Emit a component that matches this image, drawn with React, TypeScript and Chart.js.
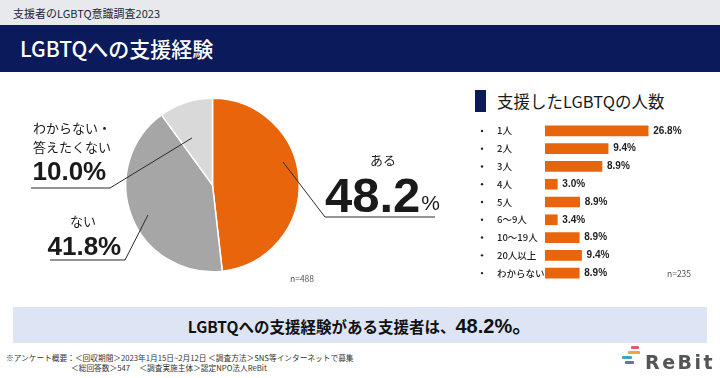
import React, { useEffect, useRef } from "react";
import { Chart, registerables } from "chart.js";

Chart.register(...registerables);

// ---- data ----
const pieLabels = ["ある", "ない", "わからない・\n答えたくない"];
const pieValues = [48.2, 41.8, 10.0];
const pieColors = ["#e8650c", "#a6a6a6", "#d9d9d9"];
const pieTotal = 488;

const countCategories = ["1人", "2人", "3人", "4人", "5人", "6〜9人", "10〜19人", "20人以上", "わからない"];
// percentages printed next to each bar
const countPercents = [26.8, 9.4, 8.9, 3.0, 8.9, 3.4, 8.9, 9.4, 8.9];
// bar lengths as drawn in the picture (in %)
const countBarLengths = [26.8, 16.4, 14.8, 3.2, 9.0, 3.2, 8.9, 9.5, 8.9];
const countTotal = 235;

const ORANGE = "#e8650c";
const NAVY = "#0b1a5b";
const JP = "'Noto Sans CJK JP', 'Noto Sans', sans-serif";
const NUM = "'Liberation Sans', Arial, sans-serif";

const pct = (v: number) => `${v.toFixed(1)}%`;

const pieLabelPlugin = {
  id: "pieLabelPlugin",
  afterDraw(chart: any) {
    const arc = chart.getDatasetMeta(0).data[0];
    if (!arc) return;
    const cx = arc.x;
    const cy = arc.y;
    const ctx = chart.ctx as CanvasRenderingContext2D;
    ctx.save();
    ctx.strokeStyle = "#2a2a2a";
    ctx.lineWidth = 1;
    const line = (pts: number[][]) => {
      ctx.beginPath();
      pts.forEach(([dx, dy], i) => {
        if (i === 0) ctx.moveTo(cx + dx, cy + dy);
        else ctx.lineTo(cx + dx, cy + dy);
      });
      ctx.stroke();
    };
    ctx.fillStyle = "#1a1a1a";
    ctx.textAlign = "left";

    // わからない・答えたくない
    const [a, b] = pieLabels[2].split("\n");
    ctx.textBaseline = "middle";
    ctx.font = `13px ${JP}`;
    ctx.fillText(a, cx - 179.5, cy - 57);
    ctx.fillText(b, cx - 179.5, cy - 38);
    ctx.textBaseline = "alphabetic";
    ctx.font = `bold 26px ${NUM}`;
    ctx.fillText(pct(pieValues[2]), cx - 180, cy - 5);
    line([[-181.5, 3], [-102.5, 3], [-20.5, -47]]);

    // ない
    ctx.textBaseline = "middle";
    ctx.font = `13px ${JP}`;
    ctx.fillText(pieLabels[1], cx - 142.5, cy + 36);
    ctx.textBaseline = "alphabetic";
    ctx.font = `bold 26px ${NUM}`;
    ctx.fillText(pct(pieValues[1]), cx - 165, cy + 70);
    line([[-162.5, 75], [-87.5, 75], [-64.5, 30]]);

    // ある
    ctx.textBaseline = "middle";
    ctx.font = `13px ${JP}`;
    ctx.fillText(pieLabels[0], cx + 157.5, cy - 25);
    ctx.textBaseline = "alphabetic";
    ctx.font = `bold 49px ${NUM}`;
    const big = pieValues[0].toFixed(1);
    ctx.fillText(big, cx + 112.5, cy + 27);
    const w = ctx.measureText(big).width;
    ctx.font = `21px ${NUM}`;
    ctx.fillText("%", cx + 112.5 + w + 1, cy + 25);
    line([[70.5, -23], [112.5, 32], [222.5, 32]]);

    ctx.restore();
  },
};

const barLabelPlugin = {
  id: "barLabelPlugin",
  afterDraw(chart: any) {
    const ctx = chart.ctx as CanvasRenderingContext2D;
    const meta = chart.getDatasetMeta(0);
    ctx.save();
    ctx.textBaseline = "middle";
    ctx.textAlign = "left";
    meta.data.forEach((bar: any, i: number) => {
      const y = bar.y;
      ctx.fillStyle = "#222";
      ctx.beginPath();
      ctx.arc(12, y, 1.2, 0, Math.PI * 2);
      ctx.fill();
      ctx.font = `500 9.5px ${JP}`;
      ctx.fillText(countCategories[i], 27, y);
      ctx.font = `bold 10px ${NUM}`;
      ctx.fillText(pct(countPercents[i]), bar.x + 5, y);
    });
    ctx.restore();
  },
};

function PieChart() {
  const ref = useRef<HTMLCanvasElement>(null);
  useEffect(() => {
    if (!ref.current) return;
    const chart = new Chart(ref.current, {
      type: "pie",
      data: {
        labels: pieLabels,
        datasets: [
          {
            data: pieValues,
            backgroundColor: pieColors,
            borderColor: "#ffffff",
            borderWidth: 1.5,
          },
        ],
      },
      options: {
        responsive: false,
        animation: false,
        layout: { padding: { left: 125, right: 160, top: 17, bottom: 17 } },
        plugins: { legend: { display: false }, tooltip: { enabled: false } },
      },
      plugins: [pieLabelPlugin],
    } as any);
    return () => chart.destroy();
  }, []);
  return (
    <canvas
      ref={ref}
      width={460}
      height={210}
      style={{ position: "absolute", left: 0, top: 80, width: 460, height: 210 }}
    />
  );
}

function BarChart() {
  const ref = useRef<HTMLCanvasElement>(null);
  useEffect(() => {
    if (!ref.current) return;
    const chart = new Chart(ref.current, {
      type: "bar",
      data: {
        labels: countCategories,
        datasets: [
          {
            data: countBarLengths,
            backgroundColor: ORANGE,
            barThickness: 10,
            borderWidth: 0,
          },
        ],
      },
      options: {
        indexAxis: "y",
        responsive: false,
        animation: false,
        layout: { padding: { left: 75, right: 21, top: 4, bottom: 8 } },
        scales: {
          x: { display: false, min: 0, max: 40 },
          y: { display: false },
        },
        plugins: { legend: { display: false }, tooltip: { enabled: false } },
      },
      plugins: [barLabelPlugin],
    } as any);
    return () => chart.destroy();
  }, []);
  return (
    <canvas
      ref={ref}
      width={250}
      height={172}
      style={{ position: "absolute", left: 470, top: 118, width: 250, height: 172 }}
    />
  );
}

const abs = (o: React.CSSProperties): React.CSSProperties => ({ position: "absolute", whiteSpace: "nowrap", ...o });

export default function App() {
  return (
    <div
      style={{
        position: "absolute",
        left: 0,
        top: 0,
        width: 720,
        height: 378,
        background: "#ffffff",
        overflow: "hidden",
        fontFamily: JP,
        color: "#1a1a1a",
      }}
    >
      {/* header */}
      <div style={abs({ left: 0, top: 0, width: 720, height: 25, background: "#e8e9ed" })} />
      <div style={abs({ left: 13, top: 4, height: 18, lineHeight: "18px", fontSize: 11, color: "#1b1f3a" })}>
        支援者のLGBTQ意識調査2023
      </div>
      <div style={abs({ left: 0, top: 25, width: 720, height: 47, background: NAVY })} />
      <div style={abs({ left: 20, top: 34, height: 28, lineHeight: "28px", fontSize: 21, color: "#ffffff", fontWeight: 500 })}>
        LGBTQへの支援経験
      </div>

      <PieChart />
      <div style={abs({ left: 290, top: 272, height: 12, lineHeight: "12px", fontSize: 8.5, color: "#555" })}>
        n={pieTotal}
      </div>

      {/* right heading */}
      <div style={abs({ left: 475, top: 90, width: 11, height: 22, background: NAVY })} />
      <div style={abs({ left: 497, top: 89, height: 24, lineHeight: "24px", fontSize: 16.5, color: "#1a1a1a" })}>
        支援したLGBTQの人数
      </div>
      <BarChart />
      <div style={abs({ left: 667, top: 267, height: 12, lineHeight: "12px", fontSize: 8.5, color: "#555" })}>
        n={countTotal}
      </div>

      {/* banner */}
      <div style={abs({ left: 13, top: 307, width: 694, height: 36, background: "#dde4f4" })} />
      <div
        style={abs({
          left: 13,
          top: 307,
          width: 694,
          height: 36,
          lineHeight: "36px",
          textAlign: "center",
          fontWeight: 700,
          fontSize: 15.5,
          color: "#111",
        })}
      >
        LGBTQへの支援経験がある支援者は、
        <span style={{ fontSize: 20, fontFamily: NUM }}>{pct(pieValues[0])}</span>
        <span style={{ fontSize: 20 }}>。</span>
      </div>

      {/* footnote */}
      <div style={abs({ left: 6, top: 352, height: 12, lineHeight: "12px", fontSize: 7.7, color: "#333" })}>
        ※アンケート概要：＜回収期間＞2023年1月15日~2月12日 ＜調査方法＞SNS等インターネットで募集
      </div>
      <div style={abs({ left: 71, top: 362, height: 12, lineHeight: "12px", fontSize: 7.7, color: "#333" })}>
        ＜総回答数＞547　 ＜調査実施主体＞認定NPO法人ReBit
      </div>

      {/* logo */}
      <div style={abs({ left: 631, top: 346, width: 8, height: 3, background: "#e0587a", borderRadius: 1 })} />
      <div style={abs({ left: 628, top: 351, width: 12, height: 3, background: "#f1a43a", borderRadius: 1 })} />
      <div style={abs({ left: 622, top: 356, width: 10, height: 3, background: "#39a9b9", borderRadius: 1 })} />
      <div style={abs({ left: 625, top: 361, width: 9, height: 3, background: "#6d6db6", borderRadius: 1 })} />
      <div
        style={abs({
          left: 645,
          top: 350,
          height: 24,
          lineHeight: "24px",
          fontSize: 19,
          fontWeight: 700,
          letterSpacing: 2.5,
          color: "#555",
          fontFamily: "'DejaVu Sans', sans-serif",
        })}
      >
        ReBit
      </div>
    </div>
  );
}
